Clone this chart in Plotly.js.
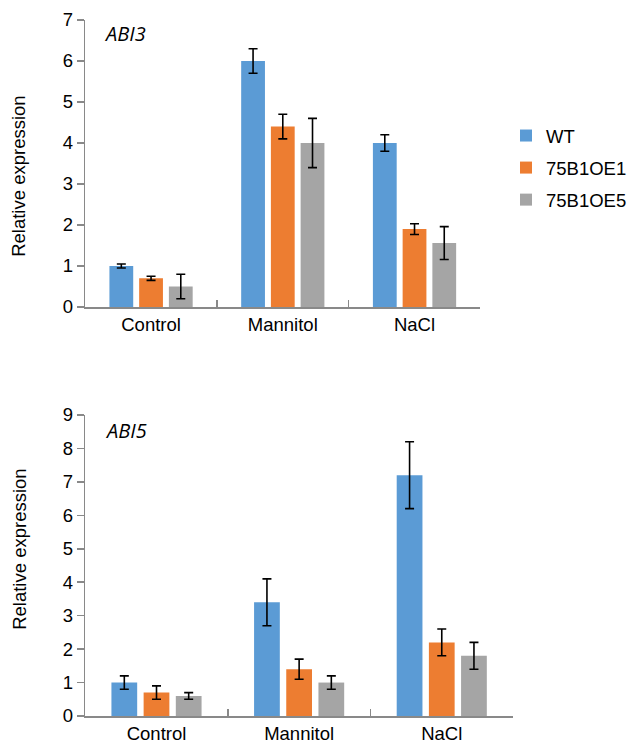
<!DOCTYPE html>
<html>
<head>
<meta charset="utf-8">
<script src="https://cdn.plot.ly/plotly-3.0.1.min.js"></script>
<style>html,body{margin:0;padding:0;background:#fff;}#chart{width:632px;height:745px;}</style>
</head>
<body>
<div id="chart"></div>
<script>
var categories = ["Control", "Mannitol", "NaCl"];
var seriesNames = ["WT", "75B1OE1", "75B1OE5"];
var colors = ["#5B9BD5", "#ED7D31", "#A5A5A5"];
var yTitle = "Relative expression";

// ABI3
var abi3_WT = [1.0, 6.0, 4.0];
var abi3_WT_err = [0.05, 0.3, 0.2];
var abi3_OE1 = [0.7, 4.4, 1.9];
var abi3_OE1_err = [0.05, 0.3, 0.13];
var abi3_OE5 = [0.5, 4.0, 1.56];
var abi3_OE5_err = [0.3, 0.6, 0.4];

// ABI5
var abi5_WT = [1.0, 3.4, 7.2];
var abi5_WT_err = [0.2, 0.7, 1.0];
var abi5_OE1 = [0.7, 1.4, 2.2];
var abi5_OE1_err = [0.2, 0.3, 0.4];
var abi5_OE5 = [0.6, 1.0, 1.8];
var abi5_OE5_err = [0.1, 0.2, 0.4];

var FONT = "Liberation Sans, Arial, sans-serif";
var FS = 18.5;

function mk(vals, errs, i, xa, ya, showleg) {
  return {
    type: "bar", x: categories, y: vals, name: seriesNames[i],
    xaxis: xa, yaxis: ya, showlegend: showleg, legendgroup: "g" + i,
    marker: {color: colors[i]},
    error_y: {type: "data", array: errs, visible: true, color: "#000000", thickness: 1.6, width: 4.5}
  };
}

var data = [
  mk(abi3_WT, abi3_WT_err, 0, "x", "y", true),
  mk(abi3_OE1, abi3_OE1_err, 1, "x", "y", true),
  mk(abi3_OE5, abi3_OE5_err, 2, "x", "y", true),
  mk(abi5_WT, abi5_WT_err, 0, "x2", "y2", false),
  mk(abi5_OE1, abi5_OE1_err, 1, "x2", "y2", false),
  mk(abi5_OE5, abi5_OE5_err, 2, "x2", "y2", false)
];

var W = 632, H = 745;
function px(v){return v / W;}
function py(v){return 1 - v / H;}

var axisCommon = {
  showline: true, linecolor: "#898989", linewidth: 1.5,
  showgrid: false, zeroline: false,
  tickfont: {family: FONT, size: FS, color: "#000"},
  automargin: false, fixedrange: true
};

var layout = {
  width: W, height: H,
  margin: {l: 0, r: 0, t: 0, b: 0},
  paper_bgcolor: "#fff", plot_bgcolor: "#fff",
  barmode: "group",
  bargap: 0.323, bargroupgap: 0.2,
  font: {family: FONT, size: FS, color: "#000"},
  xaxis: Object.assign({}, axisCommon, {
    domain: [px(86), px(485)], anchor: "y", range: [-0.5, 2.5],
    ticks: "inside", tickson: "boundaries", ticklen: 7, tickcolor: "#898989", tickwidth: 1.5
  }),
  yaxis: Object.assign({}, axisCommon, {
    domain: [py(307), py(20)], anchor: "x", range: [0, 7], dtick: 1,
    ticks: "outside", ticklen: 7, tickcolor: "#898989", tickwidth: 1.5
  }),
  xaxis2: Object.assign({}, axisCommon, {
    domain: [px(86), px(518)], anchor: "y2", range: [-0.5, 2.5],
    ticks: "inside", tickson: "boundaries", ticklen: 7, tickcolor: "#898989", tickwidth: 1.5
  }),
  yaxis2: Object.assign({}, axisCommon, {
    domain: [py(716), py(415)], anchor: "x2", range: [0, 9], dtick: 1,
    ticks: "outside", ticklen: 7, tickcolor: "#898989", tickwidth: 1.5
  }),
  legend: {
    x: px(511), y: py(117), xanchor: "left", yanchor: "top",
    font: {family: FONT, size: FS, color: "#000"},
    tracegroupgap: 5, bgcolor: "rgba(0,0,0,0)"
  },
  annotations: [
    {text: "<i>ABI3</i>", xref: "paper", yref: "paper", x: px(126), y: py(34), xanchor: "center", yanchor: "middle", showarrow: false,
     font: {family: "Open Sans, sans-serif", size: 20, color: "#000"}},
    {text: "<i>ABI5</i>", xref: "paper", yref: "paper", x: px(127), y: py(430), xanchor: "center", yanchor: "middle", showarrow: false,
     font: {family: "Open Sans, sans-serif", size: 20, color: "#000"}},
    {text: yTitle, xref: "paper", yref: "paper", x: px(19), y: py(176), xanchor: "center", yanchor: "middle", textangle: -90, showarrow: false,
     font: {family: FONT, size: FS, color: "#000"}},
    {text: yTitle, xref: "paper", yref: "paper", x: px(19), y: py(549), xanchor: "center", yanchor: "middle", textangle: -90, showarrow: false,
     font: {family: FONT, size: FS, color: "#000"}}
  ]
};

Plotly.newPlot("chart", data, layout, {displayModeBar: false, staticPlot: true});
</script>
</body>
</html>
